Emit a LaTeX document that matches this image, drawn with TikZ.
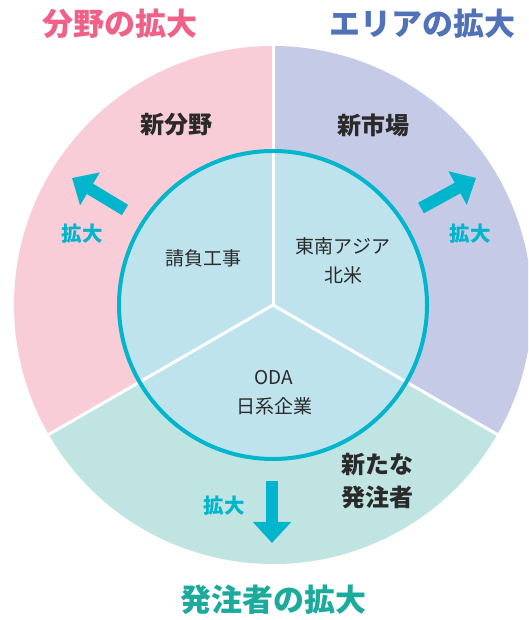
\documentclass[tikz,border=0pt]{standalone}
\usepackage{fontspec}
\setmainfont{Noto Sans CJK JP}
\usetikzlibrary{arrows.meta}
\definecolor{pinkfill}{HTML}{F8CDD7}
\definecolor{lavfill}{HTML}{C5CBE7}
\definecolor{mintfill}{HTML}{C0E4E1}
\definecolor{innerfill}{HTML}{BEE3EC}
\definecolor{tealline}{HTML}{00B5CC}
\definecolor{pinktext}{HTML}{F06187}
\definecolor{bluetext}{HTML}{5172B9}
\definecolor{greentext}{HTML}{1BAA9C}
\definecolor{darktext}{HTML}{2A2A2A}
\tikzset{
  title/.style={font=\fontsize{31}{31}\selectfont\bfseries, inner sep=0pt},
  sector/.style={font=\fontsize{24}{33}\selectfont\bfseries, text=darktext, align=center, inner sep=0pt},
  inner/.style={font=\fontsize{19}{29}\selectfont, text=darktext, align=center, inner sep=0pt},
  growlabel/.style={font=\fontsize{20.5}{20.5}\selectfont\bfseries, text=tealline, inner sep=0pt},
  growarrow/.style={draw=tealline, line width=12pt, -{Triangle[length=21pt,width=37pt]}},
  divider/.style={draw=white, line width=3pt},
}
\begin{document}
\begin{tikzpicture}[x=1pt,y=1pt]
\useasboundingbox (0,0) rectangle (528,620);
\clip (0,0) rectangle (528,620);
\coordinate (C) at (273,315);
% outer sectors
\fill[pinkfill] (C) -- ++(90:259) arc[start angle=90, end angle=210, radius=259] -- cycle;
\fill[lavfill] (C) -- ++(-30:259) arc[start angle=-30, end angle=90, radius=259] -- cycle;
\fill[mintfill] (C) -- ++(210:259) arc[start angle=210, end angle=330, radius=259] -- cycle;
% inner circle
\fill[innerfill] (C) circle[radius=154];
% dividers
\draw[divider] (C) -- ++(90:262) coordinate (D1);
\draw[divider] (C) -- ++(210:262) coordinate (D2);
\draw[divider] (C) -- ++(330:262) coordinate (D3);
\draw[tealline, line width=4pt] (C) circle[radius=154];
% titles
\node[title, text=pinktext] (t1) at (120,596.5) {分野の拡大};
\node[title, text=bluetext] (t2) at (422,596.5) {エリアの拡大};
\node[title, text=greentext] (t3) at (273,20) {発注者の拡大};
% sector labels
\node[sector] (s1) at (176,495) {新分野};
\node[sector] (s2) at (373,495) {新市場};
\node[sector] (s3) at (377,138.5) {新たな\\発注者};
% inner labels
\node[inner] (i1) at (203,361.5) {請負工事};
\node[inner] (i2) at (343,359.5) {東南アジア\\北米};
\node[inner] (i3) at (274,227) {ODA\\日系企業};
% growth arrows
\coordinate (a1s) at (125,410);
\coordinate (a1e) at (72,442);
\coordinate (a2s) at (421,412);
\coordinate (a2e) at (476,442);
\coordinate (a3s) at (272,139);
\coordinate (a3e) at (272,77);
\draw[growarrow] (a1s) -- (a1e);
\draw[growarrow] (a2s) -- (a2e);
\draw[growarrow] (a3s) -- (a3e);
\node[growlabel] (g1) at (82,386) {拡大};
\node[growlabel] (g2) at (470,386) {拡大};
\node[growlabel] (g3) at (224,114) {拡大};
\end{tikzpicture}
\end{document}
